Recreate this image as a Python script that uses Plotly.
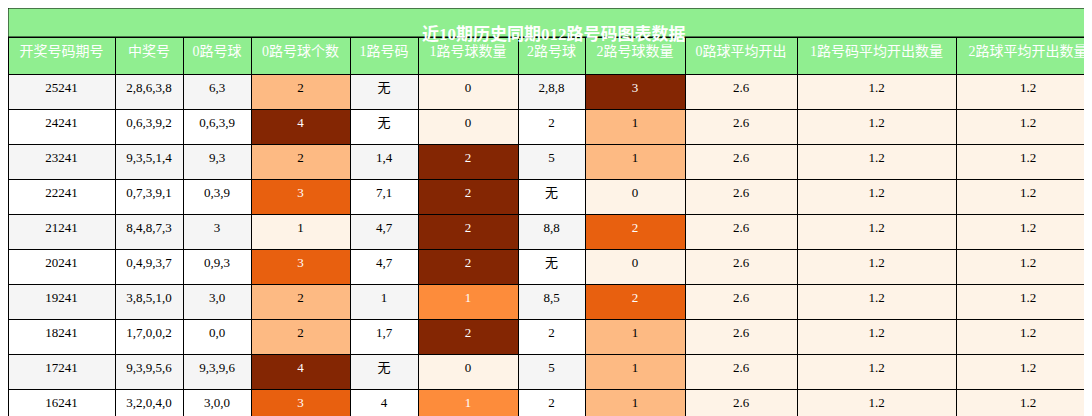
import plotly.graph_objects as go

title = "近10期历史同期012路号码图表数据"
headers = ["开奖号码期号","中奖号","0路号球","0路号球个数","1路号码","1路号球数量","2路号球","2路号球数量","0路球平均开出","1路号码平均开出数量","2路球平均开出数量"]
periods = ["25241","24241","23241","22241","21241","20241","19241","18241","17241","16241"]
numbers = ["2,8,6,3,8","0,6,3,9,2","9,3,5,1,4","0,7,3,9,1","8,4,8,7,3","0,4,9,3,7","3,8,5,1,0","1,7,0,0,2","9,3,9,5,6","3,2,0,4,0"]
road0 = ["6,3","0,6,3,9","9,3","0,3,9","3","0,9,3","3,0","0,0","9,3,9,6","3,0,0"]
cnt0 = [2,4,2,3,1,3,2,2,4,3]
road1 = ["无","无","1,4","7,1","4,7","4,7","1","1,7","无","4"]
cnt1 = [0,0,2,2,2,2,1,2,0,1]
road2 = ["2,8,8","2","5","无","8,8","无","8,5","2","5","2"]
cnt2 = [3,1,1,0,2,0,2,1,1,1]
avg0 = ["2.6"]*10
avg1 = ["1.2"]*10
avg2 = ["1.2"]*10

widths = [107,68,68,99,68,100,67,100,112,159,144]
LIGHT = "#fef3e7"
scale0 = {1: LIGHT, 2: "#fdba83", 3: "#e8600f", 4: "#842603"}
scale1 = {0: LIGHT, 1: "#fd8c3b", 2: "#842603"}
scale2 = {0: LIGHT, 1: "#fdba83", 2: "#e8600f", 3: "#842603"}
dark = {"#e8600f", "#842603", "#fd8c3b"}

alt = ["#f5f5f5" if i % 2 == 0 else "white" for i in range(10)]
def fc(col, sc):
    return [sc[v] for v in col]
f0, f1, f2 = fc(cnt0, scale0), fc(cnt1, scale1), fc(cnt2, scale2)
fills = [alt, alt, alt, f0, alt, f1, alt, f2, [LIGHT]*10, [LIGHT]*10, [LIGHT]*10]
def tc(fl):
    return ["white" if c in dark else "black" for c in fl]
tcols = [["black"]*10]*3 + [tc(f0), ["black"]*10, tc(f1), ["black"]*10, tc(f2)] + [["black"]*10]*3

fig = go.Figure(go.Table(
    columnwidth=widths,
    header=dict(values=headers, fill_color="#90ee90", line=dict(color="black", width=1),
                font=dict(color="white", size=14, family="Liberation Serif, Noto Sans CJK SC"),
                height=37, align="center"),
    cells=dict(values=[periods, numbers, road0, [str(v) for v in cnt0], road1, [str(v) for v in cnt1],
                       road2, [str(v) for v in cnt2], avg0, avg1, avg2],
               fill_color=fills, line=dict(color="black", width=1),
               font=dict(color=tcols, size=13, family="Liberation Serif, Noto Sans CJK SC"),
               height=35, align="center"),
    domain=dict(x=[0, 1], y=[0, 1 - 29/416])
))
fig.add_shape(type="rect", xref="paper", yref="paper", x0=0, x1=1, y0=1-29/416, y1=1,
              fillcolor="#90ee90", line=dict(color="black", width=1))
fig.add_annotation(text="<b>" + title + "</b>", xref="paper", yref="paper", x=0.5, y=1-14.5/416,
                   showarrow=False, font=dict(color="white", size=17, family="Liberation Serif, Noto Sans CJK SC"))
fig.update_layout(width=1092, height=416, margin=dict(l=0, r=0, t=0, b=0), paper_bgcolor="white")
fig.write_html("out.html")
